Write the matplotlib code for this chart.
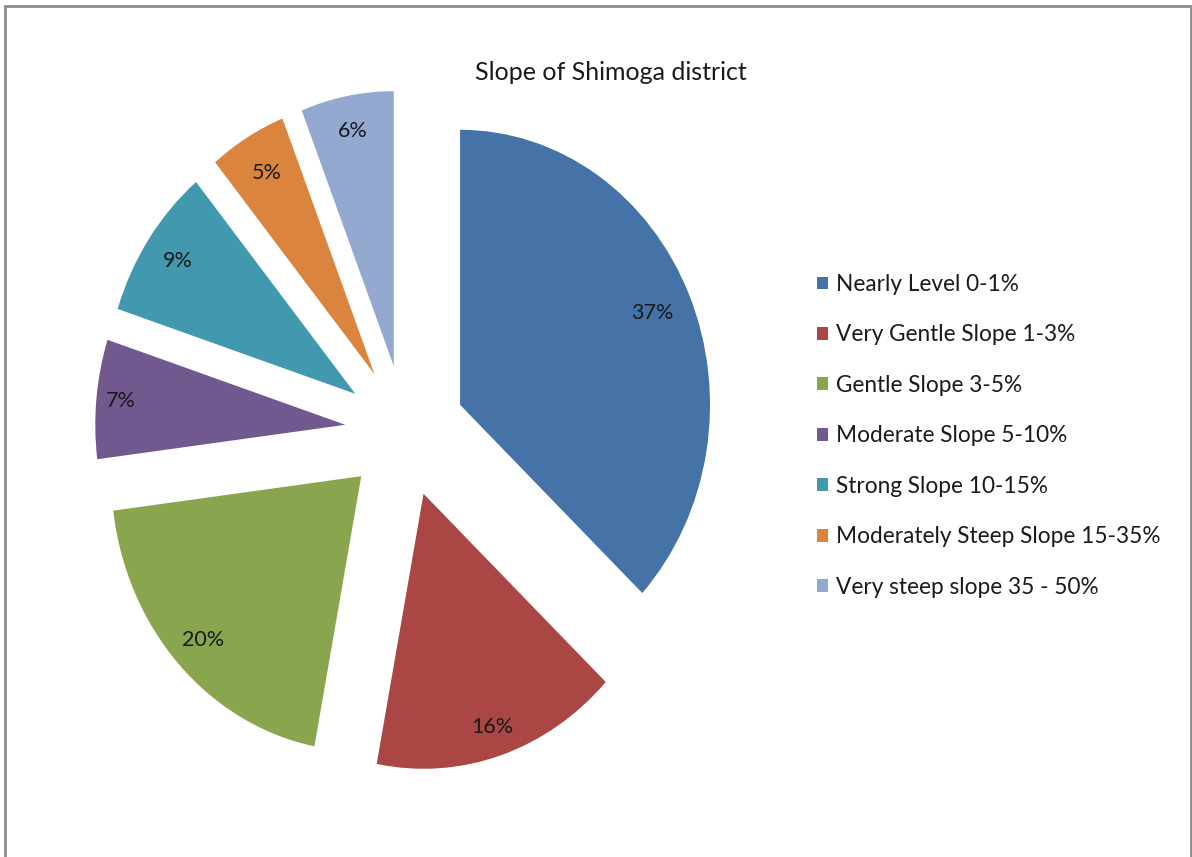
import matplotlib
matplotlib.use("Agg")
import matplotlib.pyplot as plt
from matplotlib.patches import Rectangle
import numpy as np

categories = ["Nearly Level 0-1%", "Very Gentle Slope 1-3%", "Gentle Slope 3-5%",
              "Moderate Slope 5-10%", "Strong Slope 10-15%",
              "Moderately Steep Slope 15-35%", "Very steep slope 35 - 50%"]
values = [37, 16, 20, 7, 9, 5, 6]
colors = ["#4572A7", "#AA4643", "#89A54E", "#71588F", "#4198AF", "#DB843D", "#93A9CF"]
title = "Slope of Shimoga district"

plt.rcParams['font.family'] = ['Lato', 'DejaVu Sans']

W, H = 1192, 857
SX = 0.909  # horizontal squash of the original picture
fig = plt.figure(figsize=(W / 100, H / 100), dpi=100)
ax = fig.add_axes([0, 0, 1, 1])

cx, cy, R = 405 / SX, H - 431, 275
wedges, _ = ax.pie(values, colors=colors, startangle=90, counterclock=False,
                   explode=[66] * len(values), radius=R, center=(cx, cy),
                   wedgeprops=dict(linewidth=0), frame=True)
ax.set_aspect('auto')
ax.set_xlim(0, W / SX)
ax.set_ylim(0, H)
ax.axis('off')

dists = [0.84, 0.89, 0.87, 0.90, 0.86, 0.85, 0.87]
total = sum(values)
for w, v, d in zip(wedges, values, dists):
    th = np.deg2rad((w.theta1 + w.theta2) / 2)
    x0, y0 = w.center
    ax.text(x0 + d * R * np.cos(th), y0 + d * R * np.sin(th),
            f"{round(100 * v / total)}%", ha='center', va='center',
            fontsize=15.5, color='#1a1a1a')

fig.text(611 / W, 1 - 73 / H, title, ha='center', va='center', fontsize=18,
         color='#1a1a1a')

leg = ax.legend(wedges, categories, loc='upper left',
                bbox_to_anchor=(817 / W, 1 - 274 / H), bbox_transform=fig.transFigure,
                frameon=False, fontsize=16.3, handlelength=0.5, handleheight=0.5,
                handletextpad=0.35, labelspacing=1.3, borderpad=0, borderaxespad=0)
for t in leg.get_texts():
    t.set_color('#1a1a1a')

fig.patches.append(Rectangle((5 / W, -0.05), (1191 - 5) / W, 1.05 - 6 / H,
                             transform=fig.transFigure, fill=False,
                             edgecolor='#8c8c8c', linewidth=2))

fig.savefig("out.png", dpi=100)
